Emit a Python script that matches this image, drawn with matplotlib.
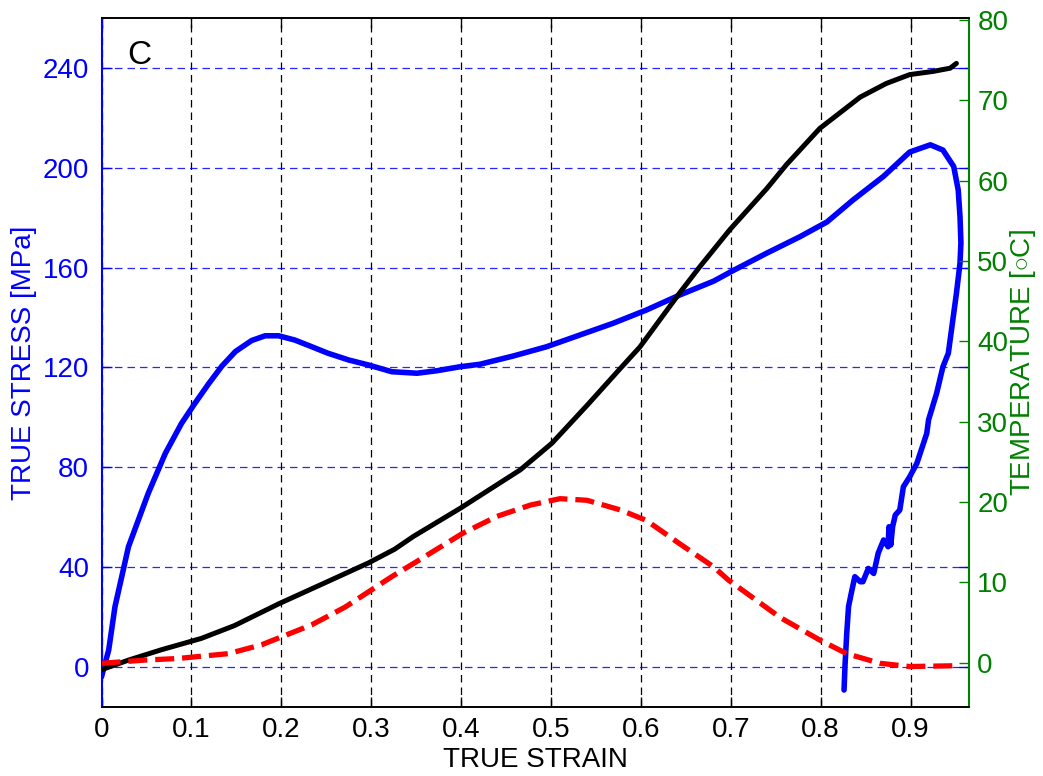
import matplotlib
matplotlib.use("Agg")
import matplotlib.pyplot as plt

plt.rcParams['font.family'] = ['Liberation Sans', 'DejaVu Sans']
plt.rcParams['mathtext.fontset'] = 'custom'
plt.rcParams['mathtext.rm'] = 'Liberation Sans'

# Stress (left axis, MPa) vs true strain
stress_strain = [0.000, 0.008, 0.015, 0.030, 0.041, 0.052, 0.071, 0.089, 0.104, 0.119,
                 0.134, 0.149, 0.167, 0.182, 0.197, 0.215, 0.234, 0.252, 0.275, 0.297,
                 0.323, 0.351, 0.373, 0.399, 0.421, 0.458, 0.495, 0.532, 0.569, 0.606,
                 0.643, 0.681, 0.703, 0.740, 0.777, 0.807, 0.836, 0.870, 0.899, 0.922,
                 0.936, 0.948, 0.953, 0.955, 0.956, 0.955, 0.951, 0.947, 0.942, 0.936,
                 0.929, 0.920, 0.918, 0.907, 0.899, 0.892, 0.888, 0.883, 0.880, 0.878,
                 0.876, 0.875, 0.870, 0.864, 0.859, 0.853, 0.847, 0.844, 0.838, 0.834,
                 0.831, 0.829, 0.827, 0.826]
stress_mpa = [-3.9, 6.8, 24.2, 48.2, 58.9, 69.6, 85.6, 97.6, 105.7, 113.4,
              120.6, 126.4, 130.8, 132.7, 132.7, 131.0, 128.3, 125.7, 123.0, 121.0,
              118.3, 117.7, 118.7, 120.3, 121.3, 124.6, 128.3, 133.0, 137.7, 143.0,
              149.0, 154.6, 158.9, 165.8, 172.4, 178.3, 187.1, 196.6, 206.3, 209.2,
              207.1, 200.5, 191.1, 180.4, 170.0, 161.8, 149.7, 139.0, 125.7, 120.3,
              109.7, 99.0, 93.6, 81.6, 76.2, 72.2, 62.9, 60.9, 56.2, 48.9,
              56.2, 48.2, 50.9, 45.6, 37.5, 39.5, 34.2, 34.2, 36.2, 29.5,
              24.2, 13.5, 0.1, -9.2]

# Temperature (right axis, deg C) - black solid
temp_strain = [0.000, 0.030, 0.067, 0.111, 0.148, 0.197, 0.252, 0.297, 0.326, 0.347,
               0.399, 0.466, 0.501, 0.540, 0.577, 0.599, 0.643, 0.665, 0.699, 0.740,
               0.762, 0.799, 0.844, 0.873, 0.899, 0.925, 0.944, 0.951]
temperature = [-0.9, 0.3, 1.6, 3.0, 4.6, 7.3, 10.1, 12.4, 14.1, 15.7,
               19.2, 24.0, 27.3, 32.0, 36.6, 39.3, 46.0, 49.2, 53.9, 59.0,
               62.0, 66.5, 70.4, 72.1, 73.2, 73.6, 74.0, 74.6]

# Second temperature-scale curve - red dashed
red_strain = [0.000, 0.048, 0.085, 0.141, 0.178, 0.234, 0.271, 0.323, 0.354, 0.402,
              0.440, 0.477, 0.510, 0.540, 0.577, 0.606, 0.643, 0.681, 0.697, 0.755,
              0.799, 0.829, 0.866, 0.899, 0.951]
red_values = [-0.1, 0.3, 0.5, 1.1, 2.2, 4.7, 6.9, 10.7, 12.8, 16.1,
              18.2, 19.6, 20.4, 20.2, 19.0, 17.7, 14.8, 11.9, 10.3, 5.6,
              2.8, 1.1, -0.1, -0.5, -0.4]

x_ticks = [0, 0.1, 0.2, 0.3, 0.4, 0.5, 0.6, 0.7, 0.8, 0.9]
x_ticklabels = ['0', '0.1', '0.2', '0.3', '0.4', '0.5', '0.6', '0.7', '0.8', '0.9']
stress_ticks = [0, 40, 80, 120, 160, 200, 240]
temp_ticks = [0, 10, 20, 30, 40, 50, 60, 70, 80]

BLUE = '#0000ff'
GREEN = '#008000'
FS = 20

fig = plt.figure(figsize=(10.43, 7.76), dpi=100)
ax = fig.add_axes([101.5 / 1043, 1 - 707 / 776, 867.5 / 1043, 689 / 776])
ax2 = ax.twinx()

ax.plot(stress_strain, stress_mpa, color=BLUE, lw=4.0, solid_joinstyle='round',
        solid_capstyle='round', zorder=3)
ax2.plot(temp_strain, temperature, color='black', lw=3.6, solid_joinstyle='round',
         solid_capstyle='round', zorder=3)
ax2.plot(red_strain, red_values, color='red', lw=3.8, linestyle=(0, (3.6, 1.5)), zorder=3)

ax.set_xlim(0, 0.965)
ax.set_ylim(-16, 260)
ax2.set_ylim(-5.54, 80.25)

ax.set_xticks(x_ticks)
ax.set_xticklabels(x_ticklabels)
ax.set_yticks(stress_ticks)
ax2.set_yticks(temp_ticks)

# grid
for xv in x_ticks:
    ax.axvline(xv, color='black', lw=0.9, linestyle=(0, (6, 4)), zorder=1)
for yv in stress_ticks:
    ax.axhline(yv, color=BLUE, lw=0.9, linestyle=(0, (6, 4)), zorder=1, alpha=0.85)

ax.tick_params(axis='x', direction='in', length=7, width=1, pad=7, labelsize=FS,
               colors='black', top=True)
ax.tick_params(axis='y', direction='in', length=7, width=1, pad=9, labelsize=FS,
               colors=BLUE, right=True)
ax2.tick_params(axis='y', direction='in', length=7, width=1, pad=6, labelsize=FS,
                colors=GREEN)

ax.spines['left'].set_color(BLUE)
ax.spines['left'].set_linewidth(1.5)
ax2.spines['left'].set_visible(False)
ax2.spines['right'].set_color(GREEN)
ax2.spines['right'].set_linewidth(1.5)
for a in (ax, ax2):
    a.spines['top'].set_color('black')
    a.spines['bottom'].set_color('black')
    a.spines['top'].set_linewidth(1.2)
    a.spines['bottom'].set_linewidth(1.2)
ax.spines['right'].set_visible(False)

ax.set_xlabel('TRUE STRAIN', fontsize=FS, color='black', labelpad=3)
ax.set_ylabel('TRUE STRESS [MPa]', fontsize=FS, color=BLUE, labelpad=4)
ax2.set_ylabel(r'TEMPERATURE [$\circ$C]', fontsize=FS, color=GREEN, labelpad=0)

ax.text(0.030, 0.945, 'C', transform=ax.transAxes, fontsize=24, ha='left', va='center',
        color='black')

fig.savefig('out.png', dpi=100)
